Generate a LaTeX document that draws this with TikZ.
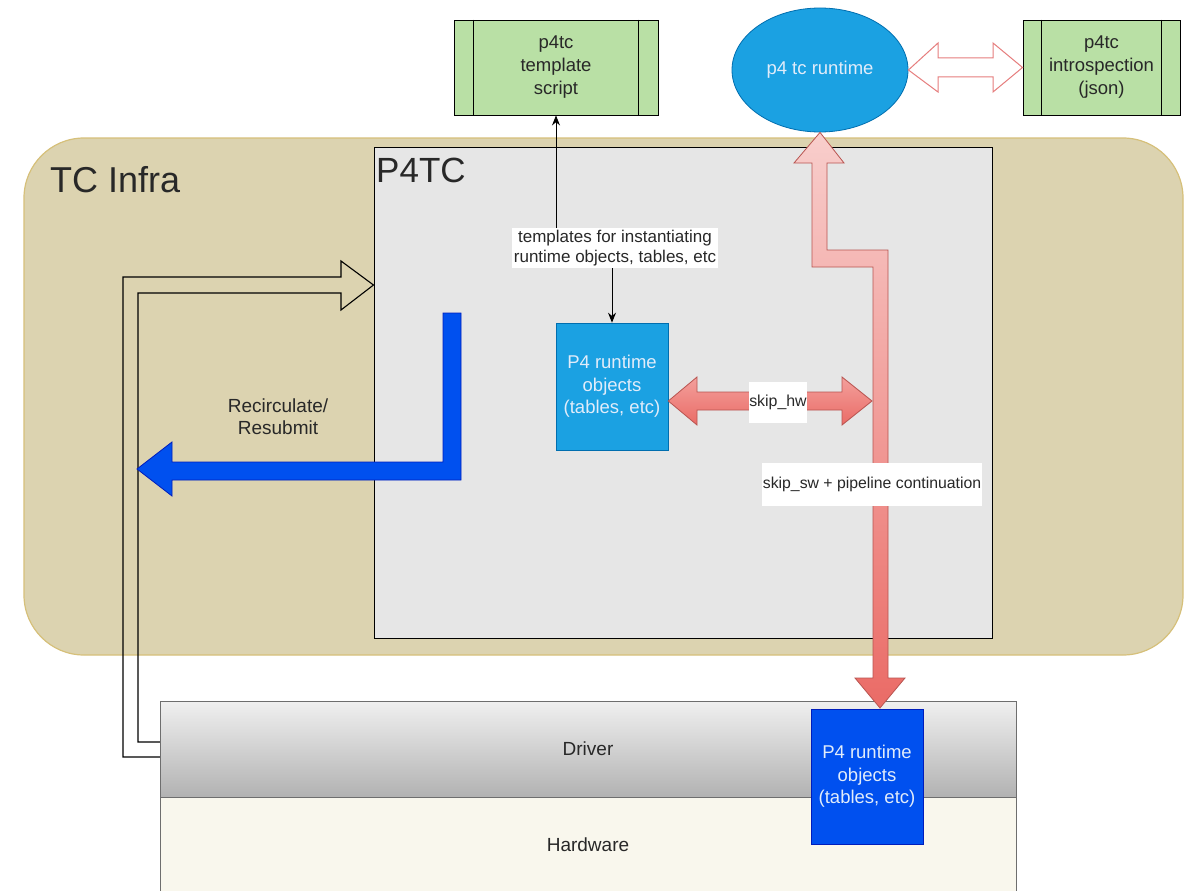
\documentclass[tikz,border=0pt]{standalone}
\usepackage{fontspec}
\setmainfont{Liberation Sans}
\usetikzlibrary{shapes.geometric,arrows.meta,calc}
\definecolor{infrafill}{RGB}{220,211,176}
\definecolor{infradraw}{RGB}{214,192,122}
\definecolor{p4fill}{RGB}{230,230,230}
\definecolor{greenfill}{RGB}{185,224,165}
\definecolor{skyblue}{RGB}{27,161,226}
\definecolor{skyblued}{RGB}{0,110,175}
\definecolor{deepblue}{RGB}{0,80,239}
\definecolor{deepblued}{RGB}{0,29,188}
\definecolor{pinkl}{RGB}{248,206,204}
\definecolor{pinkd}{RGB}{234,107,102}
\definecolor{pinkm}{RGB}{243,160,156}
\definecolor{pinkdraw}{RGB}{184,84,80}
\definecolor{pinkline}{RGB}{230,125,125}
\definecolor{txt}{RGB}{40,40,40}
\definecolor{hwfill}{RGB}{249,247,237}
\definecolor{boxgray}{RGB}{110,110,110}
\definecolor{drvtop}{RGB}{240,240,240}
\definecolor{drvbot}{RGB}{178,178,178}
\definecolor{paletxt}{RGB}{225,236,250}
\begin{document}
\begin{tikzpicture}[x=1pt,y=-1pt,
  every node/.style={font=\fontsize{19}{22}\selectfont, text=txt},
  procbox/.style={rectangle, draw=black, line width=0.9pt, fill=greenfill, align=center, inner sep=0pt, minimum height=95pt, font=\fontsize{18.5}{23}\selectfont},
  objbox/.style={rectangle, draw=skyblued, line width=0.6pt, fill=skyblue, text=paletxt, align=center, inner sep=0pt, minimum width=112pt, font=\fontsize{18.5}{22.5}\selectfont},
  lbl/.style={fill=white, inner sep=2pt, align=center},
  bigtitle/.style={font=\fontsize{36}{40}\selectfont, inner sep=0pt},
  pinkarrow/.style={draw=pinkdraw, line width=0.8pt, top color=pinkl, bottom color=pinkd},
  layerbox/.style={rectangle, draw=boxgray, line width=1pt, minimum width=856pt, minimum height=96pt, inner sep=0pt}
]
\useasboundingbox[fill=white] (0,0) rectangle (1184,891);

% TC Infra container
\node[rectangle, rounded corners=60pt, draw=infradraw, line width=1.2pt, fill=infrafill, minimum width=1159pt, minimum height=517pt, inner sep=0pt] (infra) at (603.5,396.5) {};
\node[bigtitle, anchor=base west] (infratitle) at (50,192) {TC Infra};

% P4TC box
\node[rectangle, draw=black, line width=1pt, fill=p4fill, minimum width=618pt, minimum height=491pt, inner sep=0pt] (p4tc) at (683,392.5) {};
\node[bigtitle, font=\fontsize{35}{40}\selectfont, anchor=base west] (p4title) at (376,182) {P4TC};

% outlined recirculate arrow (driver -> P4TC)
\draw[black, line width=1.1pt] (160,757) -- (123,757) -- (123,277) -- (341,277) -- (341,261) -- (p4tc.west |- 0,285) -- (341,310) -- (341,293) -- (138,293) -- (138,742) -- (160,742);

% blue recirculate arrow
\draw[fill=deepblue, draw=deepblued, line width=0.8pt] (443,313) -- (461,313) -- (461,480) -- (172,480) -- (172,496) -- (137,469) -- (172,442) -- (172,462) -- (443,462) -- cycle;
\node[align=center] (recirc) at (278,417) {Recirculate/\\Resubmit};

% top boxes
\node[procbox, minimum width=204pt] (tmpl) at (556,67.5) {p4tc\\template\\script};
\draw[line width=0.9pt] ([xshift=20pt]tmpl.north west) -- ([xshift=20pt]tmpl.south west);
\draw[line width=0.9pt] ([xshift=-20pt]tmpl.north east) -- ([xshift=-20pt]tmpl.south east);

\node[procbox, minimum width=157pt] (intro) at (1101.5,67.5) {p4tc\\introspection\\(json)};
\draw[line width=0.9pt] ([xshift=19pt]intro.north west) -- ([xshift=19pt]intro.south west);
\draw[line width=0.9pt] ([xshift=-19pt]intro.north east) -- ([xshift=-19pt]intro.south east);

\node[ellipse, draw=skyblued, line width=0.8pt, fill=skyblue, text=paletxt, minimum width=176pt, minimum height=124pt, inner sep=0pt, font=\fontsize{18.5}{22}\selectfont] (rt) at (820,70) {p4 tc runtime};

% outlined double arrow runtime <-> introspection
\draw[fill=white, draw=pinkline, line width=1pt] (rt.east) -- (938,43) -- (938,58) -- (993,58) -- (993,43) -- (intro.west) -- (993,92) -- (993,77) -- (938,77) -- (938,92) -- cycle;

% upper P4 runtime objects
\node[objbox, minimum height=127pt] (uobj) at (612,386.5) {P4 runtime\\objects\\(tables, etc)};

% template connector
\draw[line width=0.9pt, {Stealth[length=10pt,width=8pt]}-{Stealth[length=10pt,width=8pt]}] (tmpl.south) -- (556,247) -| (uobj.north);
\node[lbl, font=\fontsize{17}{20}\selectfont] (tmpllbl) at (615,248) {templates for instantiating\\runtime objects, tables, etc};

% driver and hardware
\node[layerbox, fill=hwfill] (hw) at (588,845) {Hardware};
\node[layerbox, top color=drvtop, bottom color=drvbot] (drv) at (588,749) {Driver};

% skip_hw double arrow
\path[draw=pinkdraw, line width=0.8pt, top color=pinkm, bottom color=pinkd] (uobj.east |- 0,401) -- (697,377) -- (697,392) -- (842,392) -- (842,377) -- (872,401) -- (842,425) -- (842,410) -- (697,410) -- (697,425) -- cycle;
\node[fill=white, minimum width=58pt, minimum height=41pt, inner sep=0pt, font=\fontsize{15.9}{19}\selectfont] (skiphw) at (778,402.5) {skip\_hw};

% tall pink arrow runtime <-> hardware objects
\path[pinkarrow] (rt.south) -- (844,163) -- (827,163) -- (827,250) -- (888,250) -- (888,678) -- (905,678) -- (880,708) -- (855,678) -- (873,678) -- (873,267) -- (812,267) -- (812,163) -- (794,163) -- cycle;
\node[fill=white, minimum width=220pt, minimum height=43pt, inner sep=0pt, font=\fontsize{15.8}{19}\selectfont] (skipsw) at (872,484) {skip\_sw + pipeline continuation};

% lower P4 runtime objects
\node[objbox, draw=deepblued, fill=deepblue, minimum height=135pt] (lobj) at (867,776.5) {P4 runtime\\objects\\(tables, etc)};
\end{tikzpicture}
\end{document}
